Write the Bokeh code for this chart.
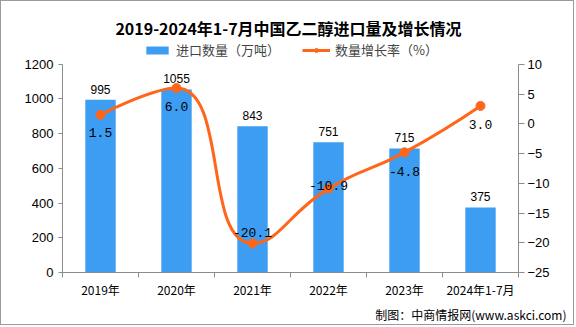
import math
from bokeh.plotting import figure
from bokeh.models import (Range1d, LinearAxis, FixedTicker, ColumnDataSource,
                          Legend, LegendItem, Title, Label)
from bokeh.embed import file_html
from bokeh.resources import INLINE
from bokeh.core.properties import value

categories = ["2019年", "2020年", "2021年", "2022年", "2023年", "2024年1-7月"]
imports = [995, 1055, 843, 751, 715, 375]
growth = [1.5, 6.0, -20.1, -10.9, -4.8, 3.0]
import_labels = ["995", "1055", "843", "751", "715", "375"]
growth_labels = ["1.5", "6.0", "-20.1", "-10.9", "-4.8", "3.0"]
left_ticks = [0, 200, 400, 600, 800, 1000, 1200]
right_ticks = [-25, -20, -15, -10, -5, 0, 5, 10]
left_lim = (0, 1200)
right_lim = (-25, 10)

BAR = "#3d9df2"
ORANGE = "#ff661a"
AXIS = "#8c8c8c"
NUM_FONT = "Liberation Sans"
CJK = "Noto Sans CJK SC"

n = len(categories)
xs = [i + 0.5 for i in range(n)]

# layout (pixels inside the 1px border)
W, H = 574, 325
TOP, BOTTOM, LEFT, RIGHT = 0, 53, 61, 57
DATA_H = 209            # pixel height of the value area
FRAME_H = H - TOP - BOTTOM
ext = FRAME_H / DATA_H   # frame extends above the axes for title and legend
y_end_l = left_lim[0] + (left_lim[1] - left_lim[0]) * ext
y_end_r = right_lim[0] + (right_lim[1] - right_lim[0]) * ext

p = figure(width=W, height=H, output_backend="svg", toolbar_location=None,
           title=None,
           x_range=Range1d(0, n), y_range=Range1d(left_lim[0], y_end_l),
           min_border_left=LEFT, min_border_right=RIGHT, min_border_top=TOP,
           min_border_bottom=BOTTOM)
p.styles = {"border": "1px solid #9a9a9a"}
p.extra_y_ranges = {"r": Range1d(right_lim[0], y_end_r)}
p.xgrid.visible = False
p.ygrid.visible = False
p.outline_line_color = None
p.background_fill_color = "white"
p.border_fill_color = "white"

# x axis
xa = p.xaxis[0]
xa.ticker = FixedTicker(ticks=xs, minor_ticks=list(range(n + 1)))
xa.major_label_overrides = {x: c for x, c in zip(xs, categories)}
xa.major_tick_line_color = None
xa.major_tick_out = 0
xa.major_tick_in = 0
xa.minor_tick_out = 5
xa.minor_tick_in = 0
xa.minor_tick_line_color = AXIS
xa.axis_line_color = AXIS
xa.major_label_text_font = CJK
xa.major_label_text_font_size = "12px"
xa.major_label_text_color = "black"
xa.major_label_standoff = 3

# left axis
ya = p.yaxis[0]
ya.ticker = FixedTicker(ticks=left_ticks)
ya.bounds = left_lim
ya.minor_tick_line_color = None
ya.major_tick_out = 4
ya.major_tick_in = 0
ya.major_tick_line_color = AXIS
ya.axis_line_color = AXIS
ya.major_label_text_font = NUM_FONT
ya.major_label_text_font_size = "13px"
ya.major_label_text_color = "black"
ya.major_label_standoff = 5

# right axis
ra = LinearAxis(y_range_name="r", ticker=FixedTicker(ticks=right_ticks),
                bounds=right_lim)
ra.minor_tick_line_color = None
ra.major_tick_out = 6
ra.major_tick_in = 0
ra.major_tick_line_color = AXIS
ra.axis_line_color = AXIS
ra.major_label_text_font = NUM_FONT
ra.major_label_text_font_size = "13px"
ra.major_label_text_color = "black"
ra.major_label_standoff = 3
p.add_layout(ra, "right")

# bars
bars = p.vbar(x=xs, top=imports, width=0.4, fill_color=BAR, line_color=None)
bsrc = ColumnDataSource(dict(x=xs, y=imports, t=import_labels))
p.text(x="x", y="y", text="t", source=bsrc, text_font=value(NUM_FONT),
       text_font_size="12px", text_align="center", text_baseline="bottom",
       y_offset=-6, text_color="black")

# smooth line: ECharts-like constrained cubic Bezier, computed in pixel space
SX, SY = 76.0, DATA_H / 35.0
smooth = 0.5
P = [(x * SX, g * SY) for x, g in zip(xs, growth)]
cp_prev = [None] * n
cp_next = [None] * n
for i in range(n):
    x, y = P[i]
    px, py = P[i - 1] if i > 0 else P[i]
    nx, ny = P[i + 1] if i < n - 1 else P[i]
    vx, vy = nx - px, ny - py
    l0 = math.hypot(x - px, y - py)
    l1 = math.hypot(nx - x, ny - y)
    if l0 == 0 or l1 == 0:
        cp_prev[i] = cp_next[i] = (x, y)
        continue
    r1 = l1 / (l0 + l1)
    ncx = x + vx * smooth * r1
    ncy = y + vy * smooth * r1
    ncx = max(min(ncx, max(nx, x)), min(nx, x))
    ncy = max(min(ncy, max(ny, y)), min(ny, y))
    vx2, vy2 = ncx - x, ncy - y
    pcx = x - vx2 * l0 / l1
    pcy = y - vy2 * l0 / l1
    pcx = max(min(pcx, max(px, x)), min(px, x))
    pcy = max(min(pcy, max(py, y)), min(py, y))
    vx3, vy3 = x - pcx, y - pcy
    ncx = x + vx3 * l1 / l0
    ncy = y + vy3 * l1 / l0
    cp_prev[i] = (pcx, pcy)
    cp_next[i] = (ncx, ncy)

x0s, y0s, x1s, y1s, cx0, cy0, cx1, cy1 = [], [], [], [], [], [], [], []
for i in range(n - 1):
    x0s.append(xs[i]); y0s.append(growth[i])
    x1s.append(xs[i + 1]); y1s.append(growth[i + 1])
    cx0.append(cp_next[i][0] / SX); cy0.append(cp_next[i][1] / SY)
    cx1.append(cp_prev[i + 1][0] / SX); cy1.append(cp_prev[i + 1][1] / SY)
p.bezier(x0=x0s, y0=y0s, x1=x1s, y1=y1s, cx0=cx0, cy0=cy0, cx1=cx1, cy1=cy1,
         line_color=ORANGE, line_width=3, y_range_name="r")
dots = p.scatter(x=xs, y=growth, size=9, fill_color=ORANGE, line_color=ORANGE,
                 y_range_name="r")
legend_line = p.line(x=[float("nan")], y=[float("nan")], line_color=ORANGE,
                     line_width=3, y_range_name="r")

gl_offsets = [18, 18, -11, -3, 19, 19]
gsrc = ColumnDataSource(dict(x=xs, y=growth, t=growth_labels, dy=gl_offsets))
p.text(x="x", y="y", text="t", source=gsrc, y_range_name="r",
       text_font=value("Liberation Mono"), text_font_size="13px",
       text_align="center", text_baseline="middle", y_offset="dy",
       text_color="black")

# legend inside the (extended) frame, above the value area
legend = Legend(items=[LegendItem(label="进口数量（万吨）", renderers=[bars]),
                       LegendItem(label="数量增长率（%）", renderers=[legend_line, dots])],
                orientation="horizontal", location=(81, 213),
                glyph_width=28, glyph_height=10, label_height=14,
                label_text_font=CJK, label_text_font_size="13px",
                label_standoff=5, spacing=22, padding=0, margin=0,
                border_line_color=None, background_fill_alpha=0)
p.add_layout(legend, "center")

# title inside the extended frame
p.add_layout(Label(x=226, y=245, x_units="screen", y_units="screen",
                   text="2019-2024年1-7月中国乙二醇进口量及增长情况",
                   text_font=CJK, text_font_size="16px", text_font_style="bold",
                   text_align="center", text_baseline="middle",
                   text_color="black"))

# source
p.add_layout(Title(text="制图：中商情报网(www.askci.com)", text_font=CJK,
                   text_font_size="12px", text_font_style="normal",
                   align="right", offset=-48, standoff=7, text_color="black"),
             "below")

open("out.html", "w").write(file_html(p, INLINE))
